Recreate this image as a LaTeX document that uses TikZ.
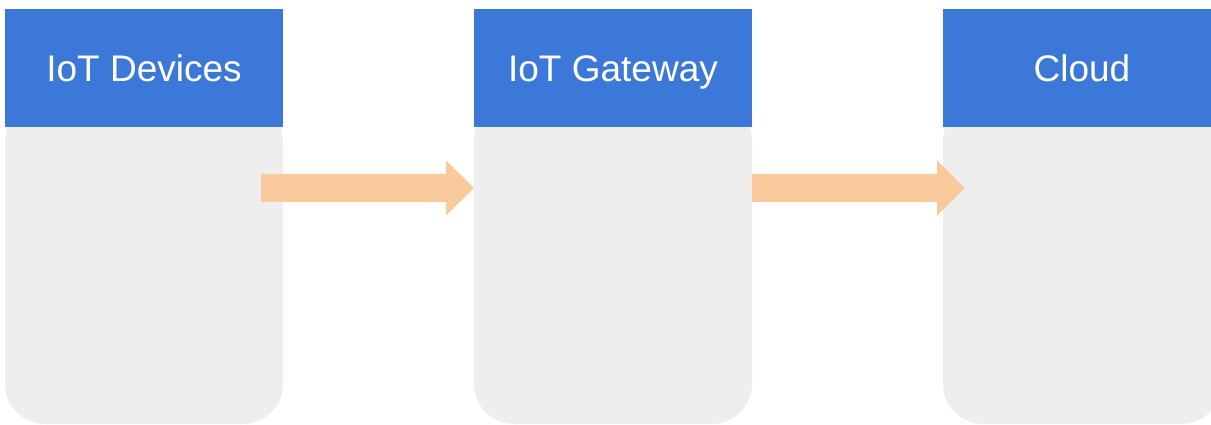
\documentclass[tikz,border=0pt]{standalone}
\usepackage{fontspec}
\setmainfont{Liberation Sans}
\definecolor{hdrblue}{HTML}{3C78D8}
\definecolor{bodygrey}{HTML}{EEEEEE}
\definecolor{arroworange}{HTML}{F9CB9C}
\tikzset{
  colbody/.style={fill=bodygrey, draw=none},
  colhead/.style={fill=hdrblue, draw=none, inner sep=0pt,
    minimum width=278pt, minimum height=118pt, anchor=north west},
  headtext/.style={text=white, inner sep=0pt, anchor=base,
    font=\fontsize{37}{44}\selectfont},
  flowarrow/.style={fill=arroworange, draw=none}
}
\begin{document}
\begin{tikzpicture}[x=1pt,y=-1pt]
\useasboundingbox (0,0) rectangle (1211,425);
% column bodies
\fill[colbody, rounded corners=40pt] (5,100) -- (5,424) -- (283,424) -- (283,100) -- cycle;
\fill[colbody, rounded corners=40pt] (474,100) -- (474,424) -- (752,424) -- (752,100) -- cycle;
\fill[colbody, rounded corners=40pt] (943,100) -- (943,424) -- (1221,424) -- (1221,100) -- cycle;
% headers
\node[colhead] (h1) at (5,9) {};
\node[colhead] (h2) at (474,9) {};
\node[colhead] (h3) at (943,9) {};
\node[headtext] (t1) at (144,82) {IoT Devices};
\node[headtext] (t2) at (613,82) {IoT Gateway};
\node[headtext] (t3) at (1082,82) {Cloud};
% arrows
\coordinate (a1s) at (261,188);
\coordinate (a1e) at (474,188);
\coordinate (a2s) at (752,188);
\coordinate (a2e) at (965,188);
\fill[flowarrow] (a1s) ++(0,-14) -- ++(185,0) -- ++(0,-13.5) -- (a1e) -- ++(-28,27.5) -- ++(0,-13.5) -- ++(-185,0) -- cycle;
\fill[flowarrow] (a2s) ++(0,-14) -- ++(185,0) -- ++(0,-13.5) -- (a2e) -- ++(-28,27.5) -- ++(0,-13.5) -- ++(-185,0) -- cycle;
\end{tikzpicture}
\end{document}
